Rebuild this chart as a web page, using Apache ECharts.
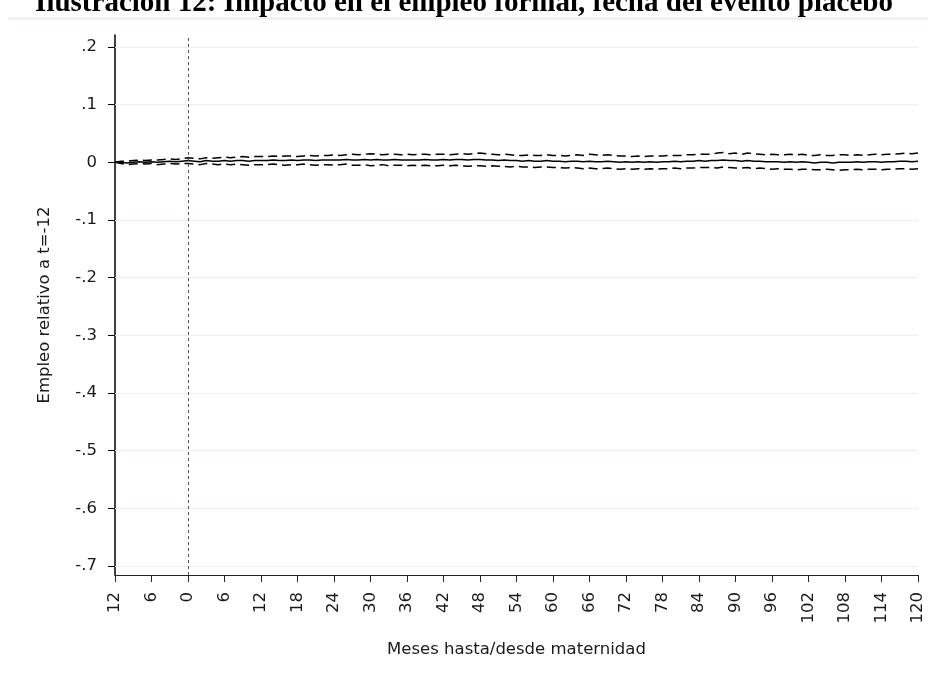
<!DOCTYPE html>
<html>
<head>
<meta charset="utf-8">
<script src="https://cdn.jsdelivr.net/npm/echarts@6/dist/echarts.min.js"></script>
<style>
  html, body { margin: 0; padding: 0; background: #fff; }
  #chart { width: 928px; height: 686px; }
</style>
</head>
<body>
<div id="chart"></div>
<script>
// Months relative to the placebo event: -12 .. 120
const months = [];
for (let m = -12; m <= 120; m++) months.push(m);

// Point estimate (employment relative to t=-12)
const estimate = [
  0.000, 0.000, -0.001, 0.000, 0.001, 0.000, 0.001, 0.000, 0.001, 0.002, 0.001, 0.002, 0.003,
  0.002, 0.001, 0.003, 0.002, 0.002, 0.003, 0.002, 0.003, 0.003, 0.002, 0.003, 0.003,
  0.003, 0.004, 0.003, 0.003, 0.004, 0.003, 0.004, 0.004, 0.003, 0.004, 0.004, 0.004,
  0.004, 0.005, 0.004, 0.004, 0.005, 0.004, 0.005, 0.004, 0.004, 0.005, 0.004, 0.004,
  0.004, 0.004, 0.005, 0.004, 0.004, 0.005, 0.004, 0.005, 0.005, 0.004, 0.005, 0.005,
  0.004, 0.004, 0.003, 0.004, 0.003, 0.003, 0.002, 0.003, 0.002, 0.002, 0.003, 0.002,
  0.002, 0.001, 0.002, 0.002, 0.001, 0.002, 0.001, 0.001, 0.002, 0.001, 0.000, 0.001,
  0.000, 0.001, 0.000, 0.001, 0.000, 0.001, 0.001, 0.002, 0.001, 0.002, 0.002, 0.003,
  0.002, 0.003, 0.003, 0.004, 0.003, 0.003, 0.002, 0.003, 0.002, 0.002, 0.001, 0.001,
  0.001, 0.000, 0.001, 0.000, 0.001, 0.000, -0.001, 0.000, 0.000, -0.001, 0.000, 0.000,
  0.000, 0.001, 0.000, 0.001, 0.001, 0.000, 0.001, 0.001, 0.002, 0.002, 0.001, 0.002
];

// Upper bound of the confidence interval
const upper = [
  0.000, 0.002, 0.002, 0.003, 0.004, 0.003, 0.004, 0.004, 0.005, 0.006, 0.005, 0.006, 0.008,
  0.007, 0.006, 0.008, 0.007, 0.008, 0.009, 0.008, 0.009, 0.010, 0.009, 0.010, 0.010,
  0.010, 0.011, 0.010, 0.011, 0.011, 0.010, 0.011, 0.012, 0.011, 0.012, 0.012, 0.013,
  0.012, 0.013, 0.014, 0.013, 0.014, 0.015, 0.014, 0.013, 0.014, 0.014, 0.013, 0.014,
  0.013, 0.014, 0.014, 0.013, 0.014, 0.014, 0.013, 0.014, 0.015, 0.014, 0.015, 0.016,
  0.015, 0.014, 0.013, 0.014, 0.013, 0.012, 0.012, 0.013, 0.012, 0.012, 0.013, 0.012,
  0.012, 0.011, 0.012, 0.013, 0.012, 0.014, 0.013, 0.012, 0.013, 0.012, 0.011, 0.011,
  0.010, 0.011, 0.010, 0.011, 0.011, 0.011, 0.012, 0.012, 0.012, 0.013, 0.013, 0.014,
  0.014, 0.014, 0.016, 0.017, 0.015, 0.016, 0.014, 0.016, 0.015, 0.014, 0.013, 0.014,
  0.013, 0.013, 0.014, 0.013, 0.014, 0.012, 0.012, 0.013, 0.012, 0.012, 0.013, 0.013,
  0.012, 0.013, 0.012, 0.013, 0.014, 0.013, 0.014, 0.014, 0.015, 0.016, 0.015, 0.016
];

// Lower bound of the confidence interval
const lower = [
  0.000, -0.002, -0.004, -0.003, -0.002, -0.003, -0.002, -0.004, -0.003, -0.002, -0.003, -0.002, -0.002,
  -0.003, -0.004, -0.002, -0.003, -0.004, -0.003, -0.004, -0.003, -0.004, -0.005, -0.004, -0.004,
  -0.004, -0.003, -0.004, -0.005, -0.004, -0.004, -0.003, -0.004, -0.005, -0.004, -0.004, -0.005,
  -0.004, -0.003, -0.005, -0.005, -0.004, -0.006, -0.005, -0.004, -0.006, -0.005, -0.005, -0.006,
  -0.005, -0.006, -0.005, -0.006, -0.006, -0.005, -0.006, -0.005, -0.006, -0.007, -0.006, -0.006,
  -0.007, -0.006, -0.007, -0.007, -0.008, -0.007, -0.008, -0.008, -0.009, -0.008, -0.008, -0.009,
  -0.009, -0.010, -0.009, -0.010, -0.011, -0.010, -0.011, -0.011, -0.010, -0.011, -0.012, -0.011,
  -0.012, -0.011, -0.012, -0.011, -0.012, -0.011, -0.011, -0.010, -0.011, -0.010, -0.010, -0.009,
  -0.009, -0.009, -0.010, -0.008, -0.009, -0.010, -0.010, -0.009, -0.011, -0.010, -0.011, -0.012,
  -0.011, -0.012, -0.012, -0.013, -0.012, -0.012, -0.013, -0.013, -0.012, -0.013, -0.014, -0.013,
  -0.013, -0.012, -0.013, -0.012, -0.012, -0.013, -0.012, -0.012, -0.011, -0.011, -0.012, -0.011
];

// Tick labels of the month axis, as printed under each tick
const xTickValues = [-12, -6, 0, 6, 12, 18, 24, 30, 36, 42, 48, 54, 60, 66, 72, 78, 84, 90, 96, 102, 108, 114, 120];
const xTickLabels = ['12', '6', '0', '6', '12', '18', '24', '30', '36', '42', '48', '54', '60', '66', '72', '78', '84', '90', '96', '102', '108', '114', '120'];

// Tick labels of the employment axis
const yTickValues = [0.2, 0.1, 0, -0.1, -0.2, -0.3, -0.4, -0.5, -0.6, -0.7];
const yTickLabels = ['.2', '.1', '0', '-.1', '-.2', '-.3', '-.4', '-.5', '-.6', '-.7'];

const titleText = 'Ilustración 12: Impacto en el empleo formal, fecha del evento placebo';

const toPairs = arr => months.map((m, i) => [m, arr[i]]);
const axisFont = '"DejaVu Sans", "Liberation Sans", sans-serif';
const textColor = '#1a1a1a';

const chart = echarts.init(document.getElementById('chart'), null, { renderer: 'canvas' });

chart.setOption({
  animation: false,
  backgroundColor: '#ffffff',
  graphic: [
    {
      type: 'text',
      left: 'center',
      top: -11,
      style: {
        text: titleText,
        font: 'bold 29px "Liberation Serif", "Times New Roman", serif',
        fill: '#000'
      }
    },
    {
      type: 'line',
      shape: { x1: 8, y1: 18.5, x2: 928, y2: 18.5 },
      style: { stroke: '#e6eef0', lineWidth: 2 }
    }
  ],
  grid: { left: 115, right: 10, top: 35, bottom: 111, containLabel: false },
  xAxis: {
    type: 'value',
    min: -12,
    max: 120,
    interval: 6,
    name: 'Meses hasta/desde maternidad',
    nameLocation: 'middle',
    nameGap: 66,
    nameTextStyle: { fontFamily: axisFont, fontSize: 16.5, color: textColor },
    axisLine: { show: true, onZero: false, lineStyle: { color: '#222', width: 1 } },
    axisTick: { show: true, length: 7, lineStyle: { color: '#222' } },
    axisLabel: {
      rotate: 90,
      margin: 17,
      fontFamily: axisFont,
      fontSize: 16.5,
      color: textColor,
      formatter: v => {
        const k = xTickValues.indexOf(v);
        return k >= 0 ? xTickLabels[k] : '';
      }
    },
    splitLine: { show: false }
  },
  yAxis: {
    type: 'value',
    min: -0.7156,
    max: 0.2208,
    name: 'Empleo relativo a t=-12',
    nameLocation: 'middle',
    nameGap: 62,
    nameRotate: 90,
    nameTextStyle: { fontFamily: axisFont, fontSize: 16.5, color: textColor },
    axisLine: { show: true, onZero: false, lineStyle: { color: '#000', width: 1.5 } },
    axisTick: { show: true, length: 7, customValues: yTickValues, lineStyle: { color: '#000' } },
    axisLabel: {
      margin: 18,
      fontFamily: axisFont,
      fontSize: 16.5,
      color: textColor,
      customValues: yTickValues,
      formatter: v => {
        const k = yTickValues.findIndex(t => Math.abs(t - v) < 1e-9);
        return k >= 0 ? yTickLabels[k] : '';
      }
    },
    splitLine: { show: false }
  },
  series: [
    {
      name: 'grid',
      type: 'line',
      data: [],
      silent: true,
      markLine: {
        silent: true,
        symbol: 'none',
        label: { show: false },
        lineStyle: { color: '#e9f0f2', type: 'solid', width: 1 },
        data: yTickValues.filter(v => v !== 0).map(v => ({ yAxis: v }))
      }
    },
    {
      name: 'event',
      type: 'line',
      data: [],
      silent: true,
      markLine: {
        silent: true,
        symbol: 'none',
        label: { show: false },
        lineStyle: { color: '#555', type: [3, 3], width: 1 },
        data: [{ xAxis: 0 }]
      }
    },
    {
      name: 'upper',
      type: 'line',
      data: toPairs(upper),
      showSymbol: false,
      lineStyle: { color: '#000', width: 1.5, type: [9, 5] }
    },
    {
      name: 'lower',
      type: 'line',
      data: toPairs(lower),
      showSymbol: false,
      lineStyle: { color: '#000', width: 1.5, type: [9, 5] }
    },
    {
      name: 'estimate',
      type: 'line',
      data: toPairs(estimate),
      showSymbol: false,
      lineStyle: { color: '#000', width: 1.5 }
    }
  ]
});
</script>
</body>
</html>
